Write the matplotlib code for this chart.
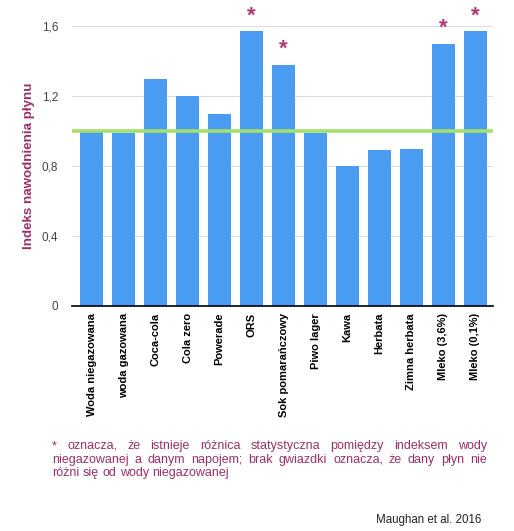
import numpy as np
import matplotlib
matplotlib.use("Agg")
import matplotlib.pyplot as plt

plt.rcParams['font.family'] = ['Liberation Sans', 'DejaVu Sans']

napoje = ["Woda niegazowana", "woda gazowana", "Coca-cola", "Cola zero", "Powerade",
          "ORS", "Sok pomarańczowy", "Piwo lager", "Kawa", "Herbata", "Zimna herbata",
          "Mleko (3,6%)", "Mleko (0,1%)"]
indeks = [1.0, 0.99, 1.3, 1.2, 1.1, 1.57, 1.38, 0.99, 0.8, 0.89, 0.9, 1.5, 1.57]
gwiazdka = [False, False, False, False, False, True, True, False, False, False, False, True, True]
yticks = [0, 0.4, 0.8, 1.2, 1.6]
yticklabels = ["0", "0,4", "0,8", "1,2", "1,6"]
poziom_wody = 1.0

przypis = ["* oznacza, że istnieje różnica statystyczna pomiędzy indeksem wody",
           "niegazowanej a danym napojem; brak gwiazdki oznacza, że dany płyn nie",
           "różni się od wody niegazowanej"]
zrodlo = "Maughan et al. 2016"

niebieski = "#4a9cf2"
fiolet = "#9c2f68"

W, H = 514, 531
fig = plt.figure(figsize=(W/100, H/100), dpi=100)
ax = fig.add_axes([72/W, 1-306/H, (493-72)/W, 280/H])

x = np.arange(len(napoje))
ax.bar(x, indeks, width=0.72, color=niebieski, zorder=2)
ax.set_xlim(-0.62, len(napoje)-0.45)
ax.set_ylim(0, 1.6)
ax.axhline(poziom_wody, color="#a4e06a", lw=2.6, zorder=3)

for i, g in enumerate(gwiazdka):
    if g:
        ax.text(x[i], indeks[i] + 0.025, "*", color="#b03a78", ha="center", va="bottom",
                fontsize=16, fontweight="bold", clip_on=False)

ax.set_yticks(yticks)
ax.set_yticklabels(yticklabels, color="#444444", fontsize=8.5)
ax.yaxis.grid(True, color="#dddddd", lw=0.8, zorder=0)
ax.set_xticks(x)
ax.set_xticklabels(napoje, rotation=90, fontsize=8, fontweight="bold", va="top")
ax.tick_params(length=0, pad=5)
ax.tick_params(axis="y", pad=10)
for s in ["top", "right", "left"]:
    ax.spines[s].set_visible(False)
ax.spines["bottom"].set_color("black")
ax.spines["bottom"].set_linewidth(1.2)
ax.set_ylabel("Indeks nawodnienia płynu", color=fiolet, fontsize=9.6, fontweight="bold", labelpad=5)

# przypis wyjustowany
fs = 9
x0, x1 = 52, 487
fig.canvas.draw()
r = fig.canvas.get_renderer()
def szer(s):
    t = fig.text(0, 0, s, fontsize=fs)
    w = t.get_window_extent(r).width
    t.remove()
    return w
spacja = szer("a a") - szer("aa")
y = 446
for n, linia in enumerate(przypis):
    slowa = linia.split(" ")
    ws = [szer(w) for w in slowa]
    if n < len(przypis) - 1:
        gap = ((x1 - x0) - sum(ws)) / (len(slowa) - 1)
    else:
        gap = spacja
    px = x0
    for w, sw in zip(slowa, ws):
        fig.text(px/W, 1 - y/H, w, fontsize=fs, color=fiolet, va="center", ha="left")
        px += sw + gap
    y += 13.7

fig.text(481/W, 1-520/H, zrodlo, fontsize=8.3, color="#222222", ha="right", va="center")

fig.savefig("out.png", dpi=100)
